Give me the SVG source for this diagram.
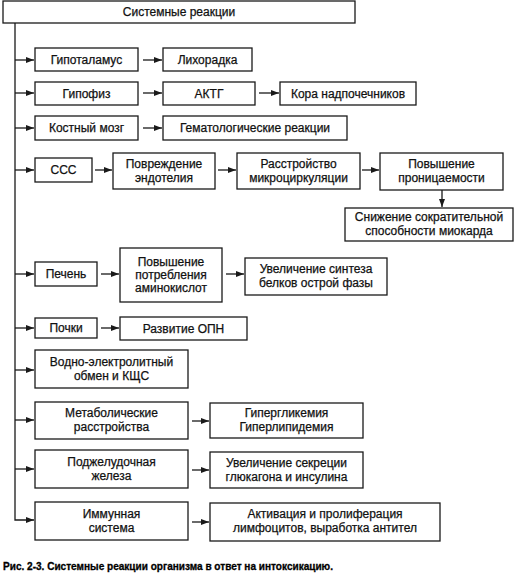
<svg xmlns="http://www.w3.org/2000/svg" width="519" height="574" viewBox="0 0 519 574">
<defs>
<style>
.b{fill:#fff;stroke:#1a1a1a;stroke-width:1.3}
.t{font-family:"Liberation Sans",Arial,sans-serif;font-size:12px;fill:#111;stroke:#111;stroke-width:0.25;text-anchor:middle}
.c{fill:none;stroke:#1a1a1a;stroke-width:1.3}
.cap{font-family:"Liberation Sans",Arial,sans-serif;font-size:10.5px;font-weight:bold;fill:#000;stroke:#000;stroke-width:0.3}
</style>
<marker id="a" viewBox="0 0 8 6" refX="8" refY="3" markerWidth="8" markerHeight="6" markerUnits="userSpaceOnUse" orient="auto">
<path d="M0,0 L8,3 L0,6 z" fill="#1a1a1a"/>
</marker>
</defs>
<rect width="519" height="574" fill="#fff"/>
<g id="connectors">
<path class="c" d="M15,23 V520 H34" marker-end="url(#a)"/>
<path class="c" d="M15,60 H34" marker-end="url(#a)"/>
<path class="c" d="M15,93 H34" marker-end="url(#a)"/>
<path class="c" d="M15,128 H34" marker-end="url(#a)"/>
<path class="c" d="M15,170 H34" marker-end="url(#a)"/>
<path class="c" d="M15,274 H34" marker-end="url(#a)"/>
<path class="c" d="M15,328 H34" marker-end="url(#a)"/>
<path class="c" d="M15,370 H34" marker-end="url(#a)"/>
<path class="c" d="M15,420 H34" marker-end="url(#a)"/>
<path class="c" d="M15,469 H34" marker-end="url(#a)"/>
<path class="c" d="M143,60 H162" marker-end="url(#a)"/>
<path class="c" d="M143,93 H162" marker-end="url(#a)"/>
<path class="c" d="M259,93 H279" marker-end="url(#a)"/>
<path class="c" d="M143,128 H162" marker-end="url(#a)"/>
<path class="c" d="M95,170 H112" marker-end="url(#a)"/>
<path class="c" d="M218,170 H236" marker-end="url(#a)"/>
<path class="c" d="M362,170 H379" marker-end="url(#a)"/>
<path class="c" d="M442,190 V207" marker-end="url(#a)"/>
<path class="c" d="M101,274 H119" marker-end="url(#a)"/>
<path class="c" d="M226,274 H244" marker-end="url(#a)"/>
<path class="c" d="M101,328 H119" marker-end="url(#a)"/>
<path class="c" d="M192,421 H209" marker-end="url(#a)"/>
<path class="c" d="M192,470 H209" marker-end="url(#a)"/>
<path class="c" d="M192,522 H209" marker-end="url(#a)"/>
</g>
<g id="n-sys"><rect class="b" x="3" y="1" width="352" height="22"/><text class="t" x="179" y="16">Системные реакции</text></g>
<g id="n-hypo"><rect class="b" x="35" y="48" width="103" height="23"/><text class="t" x="86.5" y="64">Гипоталамус</text></g>
<g id="n-fever"><rect class="b" x="163" y="48" width="89" height="23"/><text class="t" x="207.5" y="64">Лихорадка</text></g>
<g id="n-pit"><rect class="b" x="35" y="82" width="103" height="23"/><text class="t" x="86.5" y="98">Гипофиз</text></g>
<g id="n-acth"><rect class="b" x="163" y="82" width="92" height="23"/><text class="t" x="209" y="98">АКТГ</text></g>
<g id="n-adr"><rect class="b" x="280" y="82" width="136" height="23"/><text class="t" x="348" y="98">Кора надпочечников</text></g>
<g id="n-bm"><rect class="b" x="35" y="116" width="103" height="24"/><text class="t" x="86.5" y="132">Костный мозг</text></g>
<g id="n-hem"><rect class="b" x="163" y="116" width="184" height="24"/><text class="t" x="255" y="132">Гематологические реакции</text></g>
<g id="n-ccc"><rect class="b" x="35" y="158" width="57" height="24"/><text class="t" x="63.5" y="174">ССС</text></g>
<g id="n-endo"><rect class="b" x="113" y="153" width="102" height="36"/><text class="t" x="164" y="168">Повреждение</text><text class="t" x="164" y="182">эндотелия</text></g>
<g id="n-micro"><rect class="b" x="237" y="153" width="123" height="36"/><text class="t" x="298.5" y="168">Расстройство</text><text class="t" x="298.5" y="182">микроциркуляции</text></g>
<g id="n-perm"><rect class="b" x="380" y="153" width="123" height="37"/><text class="t" x="441.5" y="168">Повышение</text><text class="t" x="441.5" y="182">проницаемости</text></g>
<g id="n-myo"><rect class="b" x="345" y="208" width="168" height="33"/><text class="t" x="429" y="221">Снижение сократительной</text><text class="t" x="429" y="235">способности миокарда</text></g>
<g id="n-liver"><rect class="b" x="35" y="262" width="62" height="24"/><text class="t" x="66" y="278">Печень</text></g>
<g id="n-amino"><rect class="b" x="120" y="248" width="102" height="54"/><text class="t" x="171" y="266">Повышение</text><text class="t" x="171" y="279">потребления</text><text class="t" x="171" y="292">аминокислот</text></g>
<g id="n-acute"><rect class="b" x="245" y="258" width="142" height="37"/><text class="t" x="316" y="273">Увеличение синтеза</text><text class="t" x="316" y="287">белков острой фазы</text></g>
<g id="n-kid"><rect class="b" x="35" y="318" width="62" height="20"/><text class="t" x="66" y="332">Почки</text></g>
<g id="n-opn"><rect class="b" x="120" y="317" width="127" height="23"/><text class="t" x="183.5" y="333">Развитие ОПН</text></g>
<g id="n-water"><rect class="b" x="35" y="350" width="153" height="38"/><text class="t" x="111.5" y="366">Водно-электролитный</text><text class="t" x="111.5" y="380">обмен и КЩС</text></g>
<g id="n-meta"><rect class="b" x="35" y="402" width="153" height="37"/><text class="t" x="111.5" y="417">Метаболические</text><text class="t" x="111.5" y="431">расстройства</text></g>
<g id="n-glyc"><rect class="b" x="210" y="403" width="153" height="35"/><text class="t" x="286.5" y="417">Гипергликемия</text><text class="t" x="286.5" y="431">Гиперлипидемия</text></g>
<g id="n-panc"><rect class="b" x="35" y="450" width="153" height="38"/><text class="t" x="111.5" y="466">Поджелудочная</text><text class="t" x="111.5" y="480">железа</text></g>
<g id="n-gluc"><rect class="b" x="210" y="452" width="153" height="36"/><text class="t" x="286.5" y="467">Увеличение секреции</text><text class="t" x="286.5" y="481">глюкагона и инсулина</text></g>
<g id="n-imm"><rect class="b" x="35" y="502" width="153" height="38"/><text class="t" x="111.5" y="518">Иммунная</text><text class="t" x="111.5" y="532">система</text></g>
<g id="n-lymph"><rect class="b" x="210" y="503" width="230" height="38"/><text class="t" x="325" y="518">Активация и пролиферация</text><text class="t" x="325" y="532">лимфоцитов, выработка антител</text></g>
<text class="cap" x="3" y="570" textLength="330" lengthAdjust="spacingAndGlyphs">Рис. 2-3. Системные реакции организма в ответ на интоксикацию.</text>
</svg>
